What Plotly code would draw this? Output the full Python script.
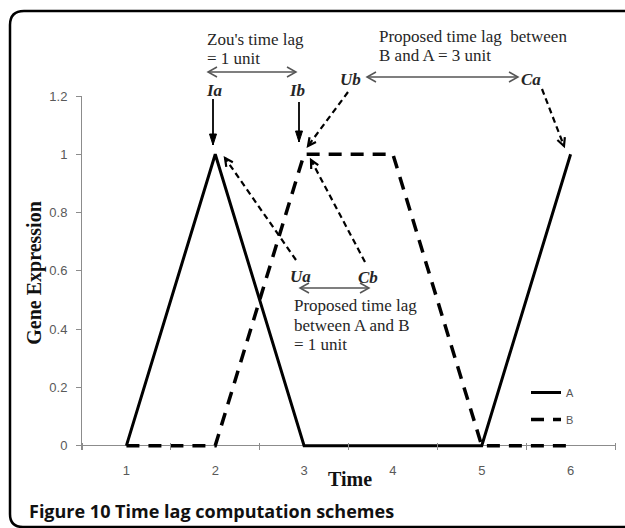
import plotly.graph_objects as go
import math

# ---- data ----
time = [1, 2, 3, 4, 5, 6]
series_a = [0, 1, 0, 0, 0, 1]
series_b = [0, 0, 1, 1, 0, 0]
tick_labels = ["1", "2", "3", "4", "5", "6"]

W, H = 625, 528
L, R, T, B = 82, 10, 96, 78
XR = [0.5, 6.5]
YR = [-0.015, 1.2]

def px(x):
    return (x - L) / (W - L - R)

def py(y):
    return (H - B - y) / (H - T - B)

SERIF = "Liberation Serif, Times New Roman, serif"
SANS = "Liberation Sans, Arial, sans-serif"
TXT = "#262626"

fig = go.Figure()
fig.add_trace(go.Scatter(x=time, y=series_a, mode="lines", name="A", legendgroup="a",
                         line=dict(color="black", width=3)))
fig.add_trace(go.Scatter(x=time, y=series_b, mode="lines", name="B", legendgroup="b",
                         line=dict(color="black", width=3.5, dash="13px,9px")))

shapes = []
annotations = []

def arrow(x0, y0, x1, y1, color="black", width=1.5, dash=None, head="open", both=False, hl=8, hw=4):
    line = dict(color=color, width=width)
    if dash:
        line["dash"] = dash
    shapes.append(dict(type="line", xref="paper", yref="paper",
                       x0=px(x0), y0=py(y0), x1=px(x1), y1=py(y1), line=line))
    ends = [(x0, y0, x1, y1)]
    if both:
        ends.append((x1, y1, x0, y0))
    for (ax, ay, bx, by) in ends:
        d = math.hypot(bx - ax, by - ay)
        ux, uy = (bx - ax) / d, (by - ay) / d
        nx, ny = -uy, ux
        p1 = (bx - hl * ux + hw * nx, by - hl * uy + hw * ny)
        p2 = (bx - hl * ux - hw * nx, by - hl * uy - hw * ny)
        path = "M{},{} L{},{} L{},{}".format(px(p1[0]), py(p1[1]), px(bx), py(by), px(p2[0]), py(p2[1]))
        if head == "filled":
            shapes.append(dict(type="path", xref="paper", yref="paper", path=path + " Z",
                               fillcolor=color, line=dict(color=color, width=1)))
        else:
            shapes.append(dict(type="path", xref="paper", yref="paper", path=path,
                               line=dict(color=color, width=width)))

def text(x, y, s, size=17, bold=False, italic=False, anchor="left", family=SERIF, color=TXT):
    if bold:
        s = "<b>" + s + "</b>"
    if italic:
        s = "<i>" + s + "</i>"
    annotations.append(dict(x=px(x), y=py(y), xref="paper", yref="paper", text=s,
                            showarrow=False, xanchor=anchor, yanchor="middle",
                            font=dict(family=family, size=size, color=color)))

# Zou's lag
text(205, 40, "Zou's time lag")
text(205, 59, "= 1 unit")
arrow(208, 72, 296, 72, color="#555555", width=1.5, both=True, hl=9, hw=5)
text(214, 90, "Ia", bold=True, italic=True, anchor="center")
text(297, 90, "Ib", bold=True, italic=True, anchor="center")
arrow(213, 99, 213, 145, head="filled", width=1.8, hl=11, hw=3.5)
arrow(299, 102, 299, 142, head="filled", width=1.8, hl=11, hw=3.5)

# B and A lag
text(377, 36, "Proposed time lag  between")
text(377, 55, "B and A = 3 unit")
text(350, 80, "Ub", bold=True, italic=True, anchor="center")
text(531, 79, "Ca", bold=True, italic=True, anchor="center")
arrow(367, 77, 518, 77, color="#555555", width=1.5, both=True, hl=9, hw=5)
arrow(348, 92, 308, 146, dash="6px,4px", width=2.2)
arrow(542, 89, 564, 146, dash="6px,4px", width=2.2)

# A and B lag
text(300, 276, "Ua", bold=True, italic=True, anchor="center")
text(368, 277, "Cb", bold=True, italic=True, anchor="center")
arrow(300, 288, 369, 288, color="#555555", width=1.5, both=True, hl=9, hw=5)
text(292, 305, "Proposed time lag")
text(292, 325, "between A and B")
text(292, 344, "= 1 unit")
arrow(296, 260, 225, 158, dash="6px,4px", width=2.2)
arrow(365, 262, 311, 160, dash="6px,4px", width=2.2)

# x-axis title and caption
text(350, 479, "Time", size=20, bold=True, anchor="center", color="#111111")
text(27, 511, "Figure 10 Time lag computation schemes", size=18, bold=True,
     family="Open Sans, Liberation Sans, sans-serif", color="#111111")

# frame
frame = "M{},{} L{},{} Q{},{} {},{} L{},{} Q{},{} {},{} L{},{}".format(
    px(640), py(11), px(24), py(11), px(10), py(11), px(10), py(25),
    px(10), py(514), px(10), py(527), px(23), py(527), px(640), py(527))
shapes.append(dict(type="path", xref="paper", yref="paper", path=frame,
                   line=dict(color="black", width=2.5)))

fig.update_layout(
    width=W, height=H,
    margin=dict(l=L, r=R, t=T, b=B),
    paper_bgcolor="white", plot_bgcolor="white",
    shapes=shapes, annotations=annotations,
    showlegend=True,
    legend=dict(x=px(526), y=py(378), xanchor="left", yanchor="top",
                font=dict(family=SANS, size=11, color="#555555"),
                tracegroupgap=8, traceorder="grouped", bgcolor="rgba(0,0,0,0)"),
    xaxis=dict(range=XR, tickmode="array", tickvals=time, ticktext=tick_labels,
               showgrid=False, zeroline=False, showline=False, ticks="",
               ticklabelstandoff=11,
               tickfont=dict(family=SANS, size=13, color="#595959"),
               minor=dict(tickmode="array", tickvals=[0.5, 1.5, 2.5, 3.5, 4.5, 5.5, 6.5],
                          ticks="inside", ticklen=7, tickcolor="#8c8c8c", tickwidth=1,
                          showgrid=False)),
    yaxis=dict(range=YR, tickmode="array", tickvals=[0, 0.2, 0.4, 0.6, 0.8, 1, 1.2],
               ticktext=["0", "0.2", "0.4", "0.6", "0.8", "1", "1.2"],
               showgrid=False, zeroline=True, zerolinecolor="#8c8c8c", zerolinewidth=1,
               showline=True, linecolor="#8c8c8c", linewidth=1,
               ticks="outside", ticklen=5, tickcolor="#8c8c8c",
               ticklabelstandoff=6,
               tickfont=dict(family=SANS, size=13, color="#595959"),
               title=dict(text="<b>Gene Expression</b>", standoff=2,
                          font=dict(family=SERIF, size=20, color="#111111"))),
)

fig.write_html("out.html", config={"displayModeBar": False},
               post_script="document.body.style.margin='0';document.body.style.overflow='hidden';")
